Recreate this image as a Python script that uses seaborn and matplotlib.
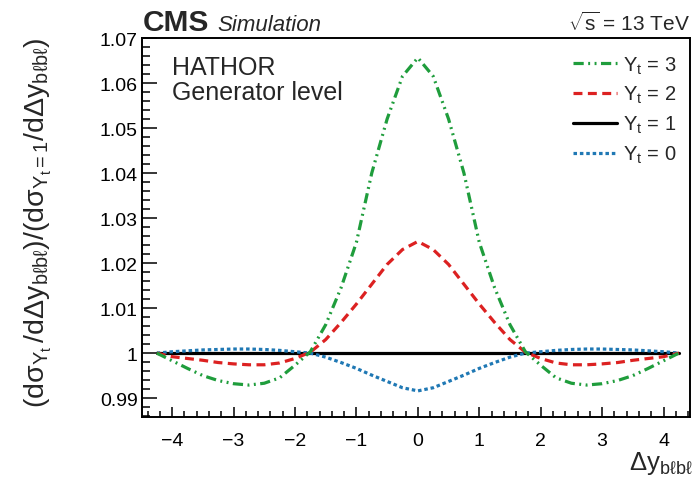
import numpy as np
import pandas as pd
import seaborn as sns
import matplotlib
matplotlib.use("Agg")
import matplotlib.pyplot as plt
from matplotlib.ticker import MultipleLocator, FuncFormatter

# Ratio of the Yukawa-scaled cross section to the SM one (Y_t = 1), binned in Delta y_{b l b l}
dy = [-4.25, -4.0, -3.75, -3.5, -3.25, -3.0, -2.75, -2.5, -2.25, -2.0, -1.75,
      -1.5, -1.25, -1.0, -0.75, -0.5, -0.25, 0.0,
      0.25, 0.5, 0.75, 1.0, 1.25, 1.5, 1.75, 2.0, 2.25, 2.5, 2.75, 3.0,
      3.25, 3.5, 3.75, 4.0, 4.25]

ratio_yt3 = [1.0000, 0.9983, 0.9966, 0.9950, 0.9939, 0.9932, 0.9929, 0.9933,
             0.9945, 0.9973, 1.0003, 1.0063, 1.0145, 1.0246, 1.0400, 1.0520,
             1.0615, 1.0656,
             1.0615, 1.0520, 1.0400, 1.0246, 1.0145, 1.0063, 1.0003, 0.9973,
             0.9945, 0.9933, 0.9929, 0.9932, 0.9939, 0.9950, 0.9966, 0.9983,
             1.0000]

ratio_yt2 = [1.0000, 0.9992, 0.9988, 0.9984, 0.9979, 0.9976, 0.9974, 0.9974,
             0.9978, 0.9988, 1.0002, 1.0030, 1.0068, 1.0109, 1.0153, 1.0197,
             1.0230, 1.0248,
             1.0230, 1.0197, 1.0153, 1.0109, 1.0068, 1.0030, 1.0002, 0.9988,
             0.9978, 0.9974, 0.9974, 0.9976, 0.9979, 0.9984, 0.9988, 0.9992,
             1.0000]

ratio_yt1 = [1.0] * len(dy)

ratio_yt0 = [1.0000, 1.0003, 1.0005, 1.0007, 1.0008, 1.0009, 1.0009, 1.0008,
             1.0006, 1.0003, 1.0000, 0.9991, 0.9979, 0.9966, 0.9951, 0.9937,
             0.9923, 0.9916,
             0.9923, 0.9937, 0.9951, 0.9966, 0.9979, 0.9991, 1.0000, 1.0003,
             1.0006, 1.0008, 1.0009, 1.0009, 1.0008, 1.0007, 1.0005, 1.0003,
             1.0000]

legend_labels = [r"Y$_{t}$ = 3", r"Y$_{t}$ = 2", r"Y$_{t}$ = 1", r"Y$_{t}$ = 0"]

series = {3: ratio_yt3, 2: ratio_yt2, 1: ratio_yt1, 0: ratio_yt0}
df = pd.concat(
    [pd.DataFrame({"dy": dy, "ratio": vals, "Yt": k}) for k, vals in series.items()],
    ignore_index=True,
)

sns.set_theme(style="ticks")
plt.rcParams["font.family"] = ["Liberation Sans", "DejaVu Sans"]
plt.rcParams["mathtext.fontset"] = "custom"
plt.rcParams["mathtext.rm"] = "Liberation Sans"
plt.rcParams["mathtext.it"] = "Liberation Sans:italic"
plt.rcParams["mathtext.bf"] = "Liberation Sans:bold"
plt.rcParams["mathtext.sf"] = "Liberation Sans"
plt.rcParams["mathtext.default"] = "regular"

fig = plt.figure(figsize=(6.95, 4.85), dpi=100)
ax = fig.add_axes([142 / 695, 1 - 418 / 485, 548 / 695, 379 / 485])

styles = {
    1: dict(color="black", linestyle="-"),
    0: dict(color="#1f78b4", linestyle=(0, (1.1, 0.9))),
    2: dict(color="#dc2121", linestyle=(0, (2.8, 1.7))),
    3: dict(color="#1f9d3c", linestyle=(0, (3.2, 1.4, 0.6, 1.4, 0.6, 1.4))),
}
handles = {}
for k in [1, 0, 2, 3]:
    sub = df[df["Yt"] == k]
    sns.lineplot(data=sub, x="dy", y="ratio", ax=ax, linewidth=2.3,
                 legend=False, **styles[k])
    handles[k] = ax.lines[-1]

ax.set_xlim(-4.49, 4.43)
ax.set_ylim(0.9858, 1.07)
ax.set_xlabel("")
ax.set_ylabel("")

ax.xaxis.set_major_locator(MultipleLocator(1))
ax.xaxis.set_minor_locator(MultipleLocator(0.2))
ax.yaxis.set_major_locator(MultipleLocator(0.01))
ax.yaxis.set_minor_locator(MultipleLocator(0.002))
ax.yaxis.set_major_formatter(
    FuncFormatter(lambda v, p: f"{v:.2f}".rstrip("0").rstrip("."))
)

ax.tick_params(axis="both", which="both", direction="in", colors="black",
               width=1.1, top=False, right=False)
ax.tick_params(axis="y", which="major", length=10.5, pad=3, labelsize=14)
ax.tick_params(axis="y", which="minor", length=5.5)
ax.tick_params(axis="x", which="major", length=7.5, pad=10.5, labelsize=14)
ax.tick_params(axis="x", which="minor", length=4.5)
for s in ax.spines.values():
    s.set_color("black")
    s.set_linewidth(1.4)

ax.legend([handles[3], handles[2], handles[1], handles[0]], legend_labels,
          loc="upper right", bbox_to_anchor=(0.99, 0.978), frameon=False,
          fontsize=14.5, handlelength=2.2, handletextpad=0.3,
          labelspacing=0.42, borderaxespad=0)

# Headline labels
fig.text(143 / 695, 1 - 31 / 485, "CMS", fontsize=21.5, fontweight="bold",
         va="baseline", ha="left")
fig.text(217 / 695, 1 - 31 / 485, "Simulation", fontsize=16, style="italic",
         va="baseline", ha="left")
fig.text(690 / 695, 1 - 31 / 485, r"$\sqrt{s}$ = 13 TeV", fontsize=15,
         va="baseline", ha="right")

fig.text(172 / 695, 1 - 75 / 485, "HATHOR", fontsize=18, va="baseline", ha="left")
fig.text(172 / 695, 1 - 100 / 485, "Generator level", fontsize=18,
         va="baseline", ha="left")

# Axis titles
fig.text(693 / 695, 1 - 470 / 485, r"$\Delta y_{b\ell b\ell}$", fontsize=18.5,
         va="baseline", ha="right")
fig.text(38 / 695, 1 - 38 / 485,
         r"$(d\sigma_{Y_{t}}\,/d\Delta y_{b\ell b\ell})/(d\sigma_{Y_{t}=1}/d\Delta y_{b\ell b\ell})$",
         fontsize=20.5, rotation=90, va="top", ha="center")

fig.savefig("out.png", dpi=100)
